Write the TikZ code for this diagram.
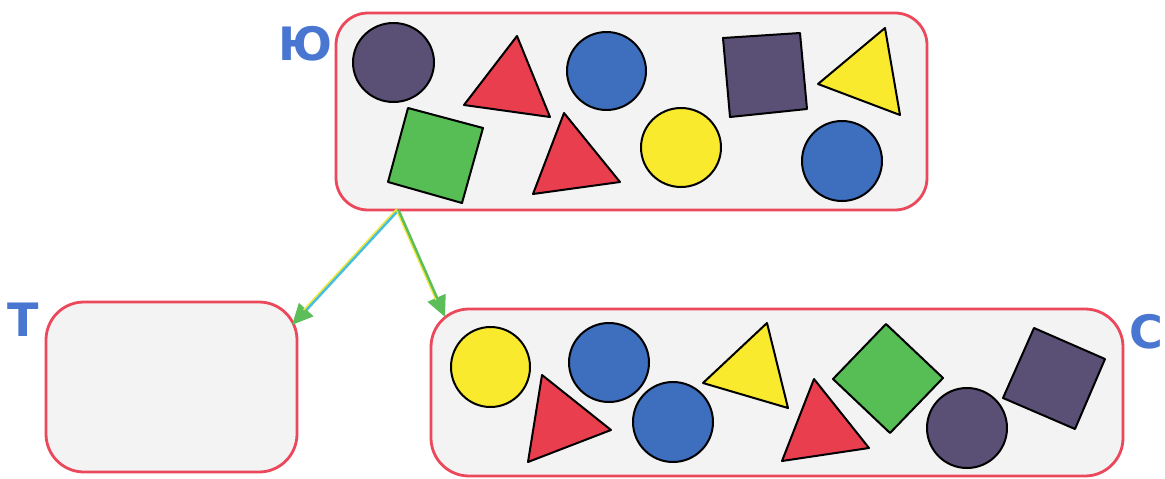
\documentclass[tikz,border=0pt]{standalone}
\usepackage{fontspec}
\newfontfamily\labfont{DejaVu Sans}
\usetikzlibrary{arrows.meta}
\definecolor{sPurple}{RGB}{90,80,118}
\definecolor{sBlue}{RGB}{62,110,190}
\definecolor{sRed}{RGB}{232,62,78}
\definecolor{sYellow}{RGB}{250,234,45}
\definecolor{sGreen}{RGB}{86,190,84}
\definecolor{boxFill}{RGB}{243,243,243}
\definecolor{boxLine}{RGB}{236,72,92}
\definecolor{labBlue}{RGB}{72,118,208}
\definecolor{arrCyan}{RGB}{70,190,225}
\definecolor{arrYellow}{RGB}{240,232,60}
\definecolor{arrGreen}{RGB}{92,190,88}
\tikzset{
  setbox/.style={draw=boxLine, fill=boxFill, line width=2.8pt, inner sep=0pt},
  lab/.style={text=labBlue, font=\labfont\bfseries\fontsize{46}{46}\selectfont, inner sep=0pt},
  shp/.style={draw=black, line width=2pt, line join=round},
  arrline/.style={line width=3.4pt},
  arrtip/.style={-{Triangle[length=21pt,width=19pt,fill=arrGreen,color=arrGreen]}},
}
\begin{document}
\begin{tikzpicture}[x=1pt,y=-1pt]
\useasboundingbox (0,0) rectangle (1165,479);
% boxes
\node[setbox, rounded corners=32pt, minimum width=591pt, minimum height=197pt] (U) at (631.5,111.5) {};
\node[setbox, rounded corners=38pt, minimum width=251pt, minimum height=170pt] (T) at (171.5,387) {};
\node[setbox, rounded corners=38pt, minimum width=692pt, minimum height=167pt] (C) at (777,392.5) {};
% labels
\node[lab] (lU) at (305,44) {Ю};
\node[lab] (lT) at (23.5,320) {Т};
\node[lab] (lC) at (1146,332) {С};
% arrows
\coordinate (src) at (398,210);
\coordinate (tipT) at (292,325);
\coordinate (tipC) at (445,317);
\draw[arrline, color=arrCyan, arrtip] (src) -- (tipT);
\draw[line width=1.5pt, color=arrYellow, shorten >=19pt] ([shift={(-1.2,-1.1)}]src) -- ([shift={(-1.2,-1.1)}]tipT);
\draw[arrline, color=arrGreen, arrtip] (src) -- (tipC);
\draw[line width=1.2pt, color=arrYellow, shorten >=19pt] ([shift={(-1.4,0.6)}]src) -- ([shift={(-1.4,0.6)}]tipC);
% shapes in U
\draw[shp, fill=sPurple] (393.5,62.5) ellipse [x radius=40.5pt, y radius=39.5pt];
\draw[shp, fill=sRed] (517,36) -- (464,105) -- (550,117) -- cycle;
\draw[shp, fill=sBlue] (606.5,71) ellipse [x radius=39.5pt, y radius=39pt];
\draw[shp, fill=sPurple] (723,38) -- (800,33) -- (807,109) -- (730,117) -- cycle;
\draw[shp, fill=sYellow] (885,28) -- (818,84) -- (900,115) -- cycle;
\draw[shp, fill=sGreen] (408,108) -- (483,128) -- (462,203) -- (388,182) -- cycle;
\draw[shp, fill=sRed] (564,113) -- (620,182) -- (533,194) -- cycle;
\draw[shp, fill=sYellow] (681,147.5) ellipse [x radius=40pt, y radius=39.5pt];
\draw[shp, fill=sBlue] (842,161) ellipse [x radius=40pt, y radius=40pt];
% shapes in C
\draw[shp, fill=sYellow] (490.5,367) ellipse [x radius=39.5pt, y radius=40pt];
\draw[shp, fill=sBlue] (609,362.5) ellipse [x radius=40pt, y radius=39.5pt];
\draw[shp, fill=sRed] (542,375) -- (611,430) -- (528,462) -- cycle;
\draw[shp, fill=sBlue] (673,422) ellipse [x radius=40pt, y radius=40pt];
\draw[shp, fill=sYellow] (767,323) -- (703,383) -- (788,408) -- cycle;
\draw[shp, fill=sRed] (814,379) -- (869,448) -- (782,461) -- cycle;
\draw[shp, fill=sGreen] (886,324) -- (943,378) -- (890,433) -- (833,379) -- cycle;
\draw[shp, fill=sPurple] (967,428) ellipse [x radius=40pt, y radius=40pt];
\draw[shp, fill=sPurple] (1034,328) -- (1105,359) -- (1075,429) -- (1003,398) -- cycle;
\end{tikzpicture}
\end{document}
